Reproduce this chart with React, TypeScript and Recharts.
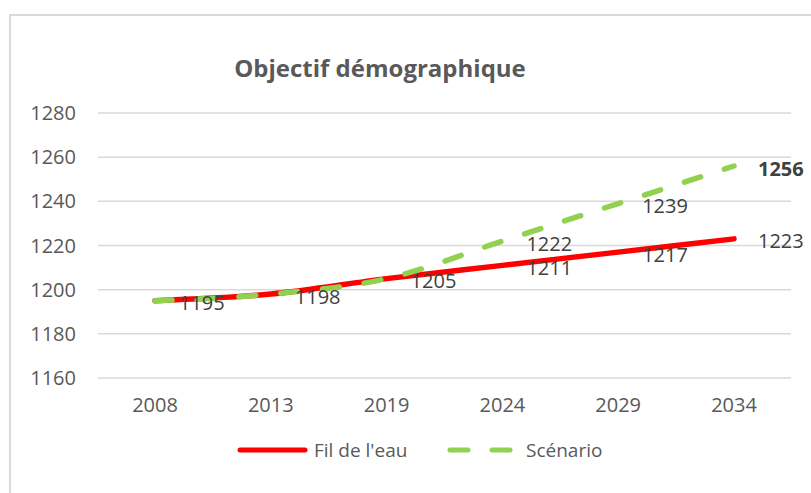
import { LineChart, Line, XAxis, YAxis, CartesianGrid, Legend, LabelList } from 'recharts';

const years = ['2008', '2013', '2019', '2024', '2029', '2034'];
const filDeLEau = [1195, 1198, 1205, 1211, 1217, 1223];
const scenario = [1195, 1198, 1205, 1222, 1239, 1256];
const yTicks = [1160, 1180, 1200, 1220, 1240, 1260, 1280];

const data = years.map((year, i) => ({ year, fil: filDeLEau[i], scen: scenario[i] }));

const FONT = '"Open Sans", sans-serif';
const RED = '#FF0000';
const GREEN = '#92D050';

function PointLabel(props: any) {
  const { x, y, value, index, series } = props;
  // the scenario follows the baseline for the first years: one label is enough there
  if (series === 'scen' && value === filDeLEau[index]) return null;
  const bold = series === 'scen' && index === scenario.length - 1;
  return (
    <text
      x={x + 24}
      y={y + 2}
      dominantBaseline="central"
      fontFamily={FONT}
      fontSize={20}
      fontWeight={bold ? 700 : 400}
      fill="#404040"
    >
      {value}
    </text>
  );
}

function ChartLegend() {
  return (
    <svg width={811} height={30}>
      <line x1={240} y1={15} x2={305} y2={15} stroke={RED} strokeWidth={5} strokeLinecap="round" />
      <text x={314} y={15} dominantBaseline="central" fontFamily={FONT} fontSize={19} fill="#595959">
        Fil de l'eau
      </text>
      <line x1={450} y1={15} x2={512} y2={15} stroke={GREEN} strokeWidth={5} strokeLinecap="round" strokeDasharray="18 24" />
      <text x={526} y={15} dominantBaseline="central" fontFamily={FONT} fontSize={19} fill="#595959">
        Scénario
      </text>
    </svg>
  );
}

export default function App() {
  return (
    <div style={{ position: 'relative', width: 811, height: 493, overflow: 'hidden', background: '#fff' }}>
      <style>{'body{margin:0}'}</style>
      <div
        style={{
          position: 'absolute',
          left: 9,
          top: 14,
          width: 900,
          height: 600,
          borderLeft: '2px solid #d9d9d9',
          borderTop: '2px solid #d9d9d9',
        }}
      />
      <LineChart
        width={811}
        height={493}
        data={data}
        margin={{ top: 113, right: 20, bottom: 75, left: 10 }}
        style={{ position: 'absolute', left: 0, top: 0 }}
      >
        <text x={380} y={67} textAnchor="middle" dominantBaseline="central" fontFamily={FONT} fontSize={24} fontWeight={700} fill="#595959">
          Objectif démographique
        </text>
        <CartesianGrid vertical={false} stroke="#d9d9d9" strokeWidth={1.5} />
        <XAxis
          dataKey="year"
          axisLine={false}
          tickLine={false}
          tickSize={0}
          tickMargin={20}
          height={40}
          padding={{ left: 57, right: 57 }}
          tick={{ fill: '#595959', fontSize: 20, fontFamily: FONT }}
        />
        <YAxis
          domain={[1160, 1280]}
          ticks={yTicks}
          axisLine={false}
          tickLine={false}
          tickSize={0}
          tickMargin={22}
          width={88}
          tick={{ fill: '#595959', fontSize: 20, fontFamily: FONT }}
        />
        <Legend
          verticalAlign="middle"
          align="center"
          wrapperStyle={{ top: 435, left: 0, width: 811 }}
          content={() => <ChartLegend />}
        />
        <Line
          type="monotone"
          dataKey="fil"
          name="Fil de l'eau"
          stroke={RED}
          strokeWidth={5.5}
          strokeLinecap="round"
          dot={false}
          isAnimationActive={false}
        >
          <LabelList dataKey="fil" content={(p: any) => <PointLabel {...p} series="fil" />} />
        </Line>
        <Line
          type="monotone"
          dataKey="scen"
          name="Scénario"
          stroke={GREEN}
          strokeWidth={5.5}
          strokeLinecap="round"
          strokeDasharray="17 25"
          dot={false}
          isAnimationActive={false}
        >
          <LabelList dataKey="scen" content={(p: any) => <PointLabel {...p} series="scen" />} />
        </Line>
      </LineChart>
    </div>
  );
}
